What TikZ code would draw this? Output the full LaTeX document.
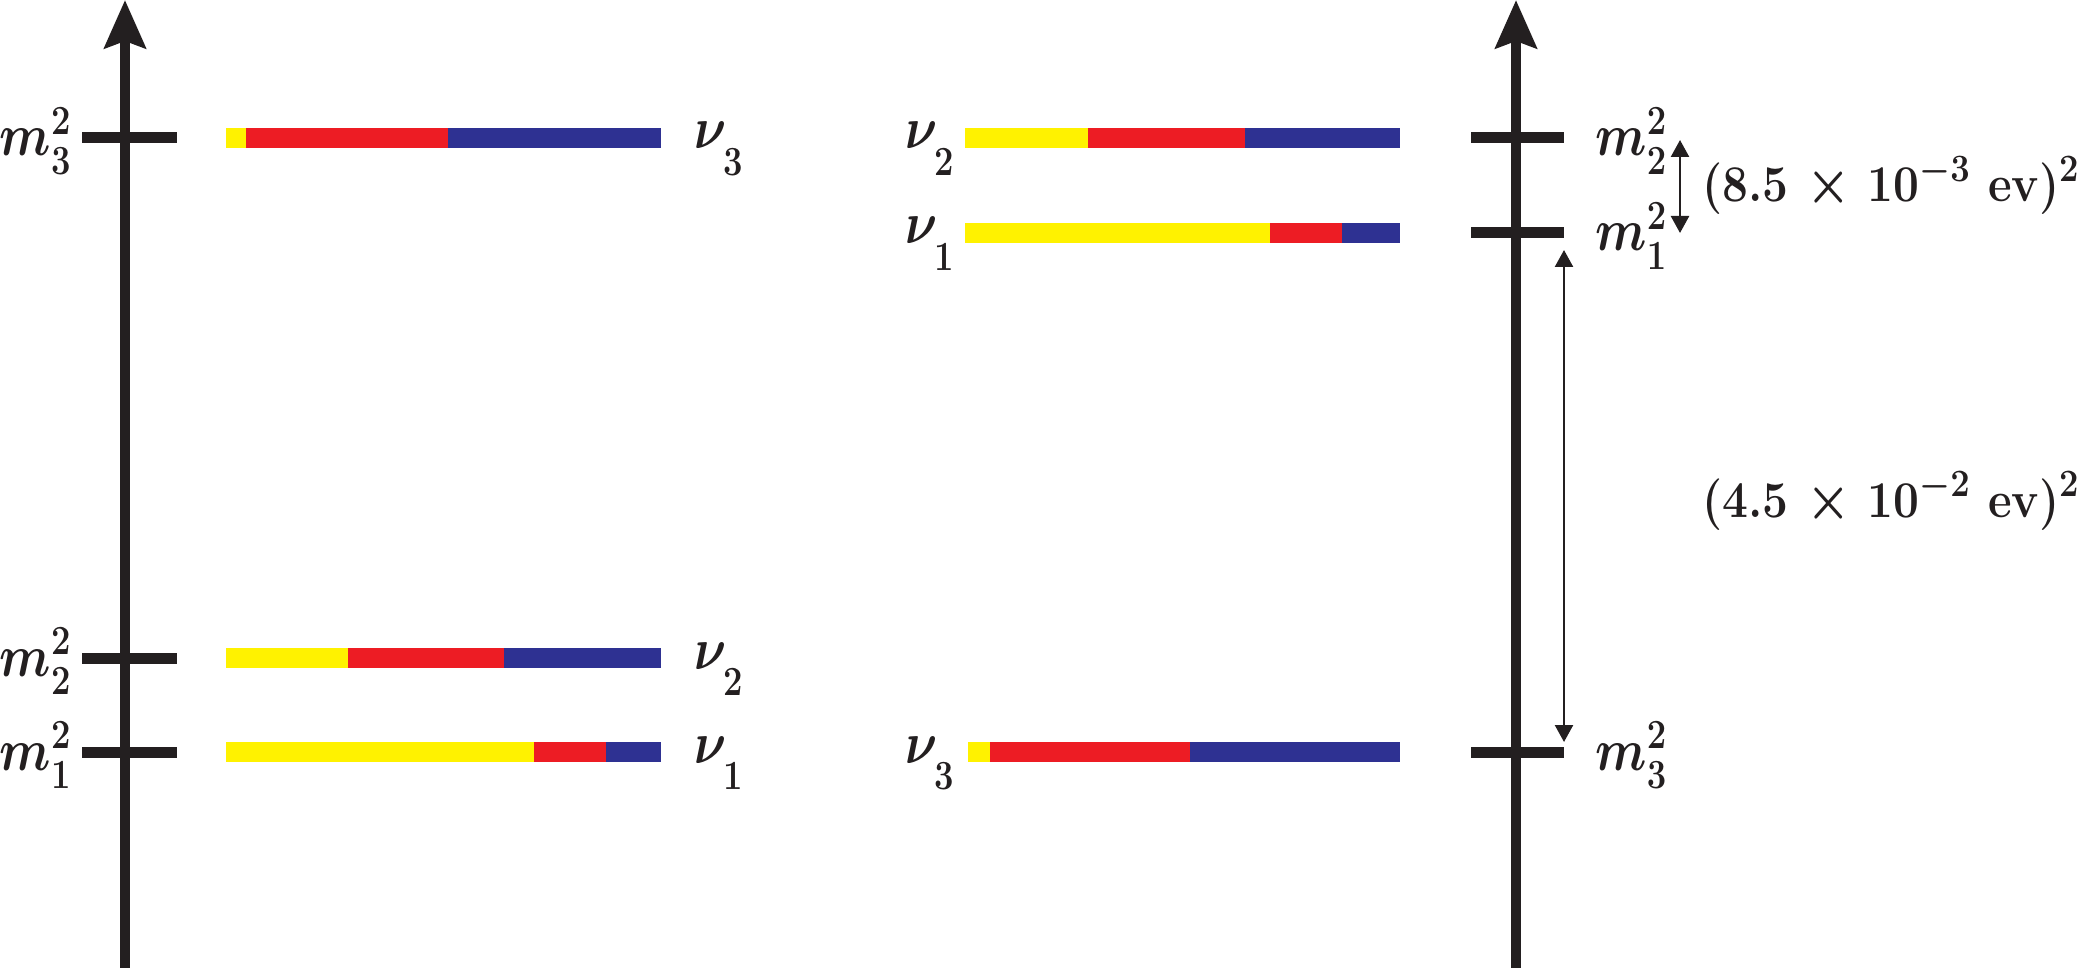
\documentclass[tikz,border=0pt]{standalone}
\usepackage{graphicx}
\usetikzlibrary{arrows.meta}
\definecolor{nyel}{HTML}{FFF200}
\definecolor{nred}{HTML}{ED1C24}
\definecolor{nblu}{HTML}{2E3192}
\definecolor{nblk}{HTML}{231F20}
\newcommand{\vst}[1]{\scalebox{1}[1.2]{#1}}
\newcommand{\vsb}[1]{\scalebox{1}[1.12]{#1}}
\newcommand{\nul}[1]{\nu_{\lower0.3em\hbox{$\scriptstyle #1$}}}
\begin{document}
\begin{tikzpicture}[x=0.5pt,y=-0.5pt,
  axisline/.style={line width=5pt,draw=nblk,-{Stealth[width=20.5pt,length=24pt,inset=3.5pt]}},
  ticklin/.style={line width=5.5pt,draw=nblk},
  lab/.style={inner sep=0pt,font=\fontsize{24}{28}\selectfont\boldmath,text=nblk},
  blab/.style={inner sep=0pt,font=\fontsize{23}{27}\selectfont\boldmath\bfseries,text=nblk},
  gap/.style={line width=1.2pt,draw=nblk,{Triangle[width=9pt,length=8.5pt]}-{Triangle[width=9pt,length=8.5pt]}},
]
\useasboundingbox (0,0) rectangle (2084,968);

% ---------- left axis ----------
\coordinate (Lbot) at (125,968);
\coordinate (Ltop) at (125,0);
\draw[axisline] (Lbot) -- (Ltop);
\foreach \y in {138,658,752}{
  \draw[ticklin] (82,\y) -- (177,\y);
}
\node[lab,anchor=base east] (mL3) at (72,156) {\vst{$m_3^2$}};
\node[lab,anchor=base east] (mL2) at (72,676) {\vst{$m_2^2$}};
\node[lab,anchor=base east] (mL1) at (72,770) {\vst{$m_1^2$}};

% left bars
\fill[nyel] (226,128) rectangle (246,148);
\fill[nred] (246,128) rectangle (448,148);
\fill[nblu] (448,128) rectangle (661,148);

\fill[nyel] (226,648) rectangle (348,668);
\fill[nred] (348,648) rectangle (504,668);
\fill[nblu] (504,648) rectangle (661,668);

\fill[nyel] (226,742) rectangle (534,762);
\fill[nred] (534,742) rectangle (606,762);
\fill[nblu] (606,742) rectangle (661,762);

\node[lab,anchor=base west] (nL3) at (694,149) {\vst{$\nul{3}$}};
\node[lab,anchor=base west] (nL2) at (694,669) {\vst{$\nul{2}$}};
\node[lab,anchor=base west] (nL1) at (694,763) {\vst{$\nul{1}$}};

% ---------- right axis ----------
\coordinate (Rbot) at (1516,968);
\coordinate (Rtop) at (1516,0);
\draw[axisline] (Rbot) -- (Rtop);
\foreach \y in {138,233,752}{
  \draw[ticklin] (1471,\y) -- (1564,\y);
}
\node[lab,anchor=base west] (mR2) at (1595,156) {\vst{$m_2^2$}};
\node[lab,anchor=base west] (mR1) at (1595,251) {\vst{$m_1^2$}};
\node[lab,anchor=base west] (mR3) at (1595,770) {\vst{$m_3^2$}};

% right bars
\fill[nyel] (965,128) rectangle (1088,148);
\fill[nred] (1088,128) rectangle (1245,148);
\fill[nblu] (1245,128) rectangle (1400,148);

\fill[nyel] (965,223) rectangle (1270,243);
\fill[nred] (1270,223) rectangle (1342,243);
\fill[nblu] (1342,223) rectangle (1400,243);

\fill[nyel] (968,742) rectangle (990,762);
\fill[nred] (990,742) rectangle (1190,762);
\fill[nblu] (1190,742) rectangle (1400,762);

\node[lab,anchor=base east] (nR2) at (955,149) {\vst{$\nul{2}$}};
\node[lab,anchor=base east] (nR1) at (955,244) {\vst{$\nul{1}$}};
\node[lab,anchor=base east] (nR3) at (955,763) {\vst{$\nul{3}$}};

% ---------- mass splittings ----------
\coordinate (sA) at (1680,140);
\coordinate (sB) at (1680,233);
\draw[gap] (sA) -- (sB);
\coordinate (bA) at (1564,250);
\coordinate (bB) at (1564,742);
\draw[gap] (bA) -- (bB);

\node[blab,anchor=base west] (dS) at (1702,202) {\vsb{(8.5 $\times$ 10$^{-3}$ ev)$^{2}$}};
\node[blab,anchor=base west] (dB) at (1702,517) {\vsb{(4.5 $\times$ 10$^{-2}$ ev)$^{2}$}};
\end{tikzpicture}
\end{document}
